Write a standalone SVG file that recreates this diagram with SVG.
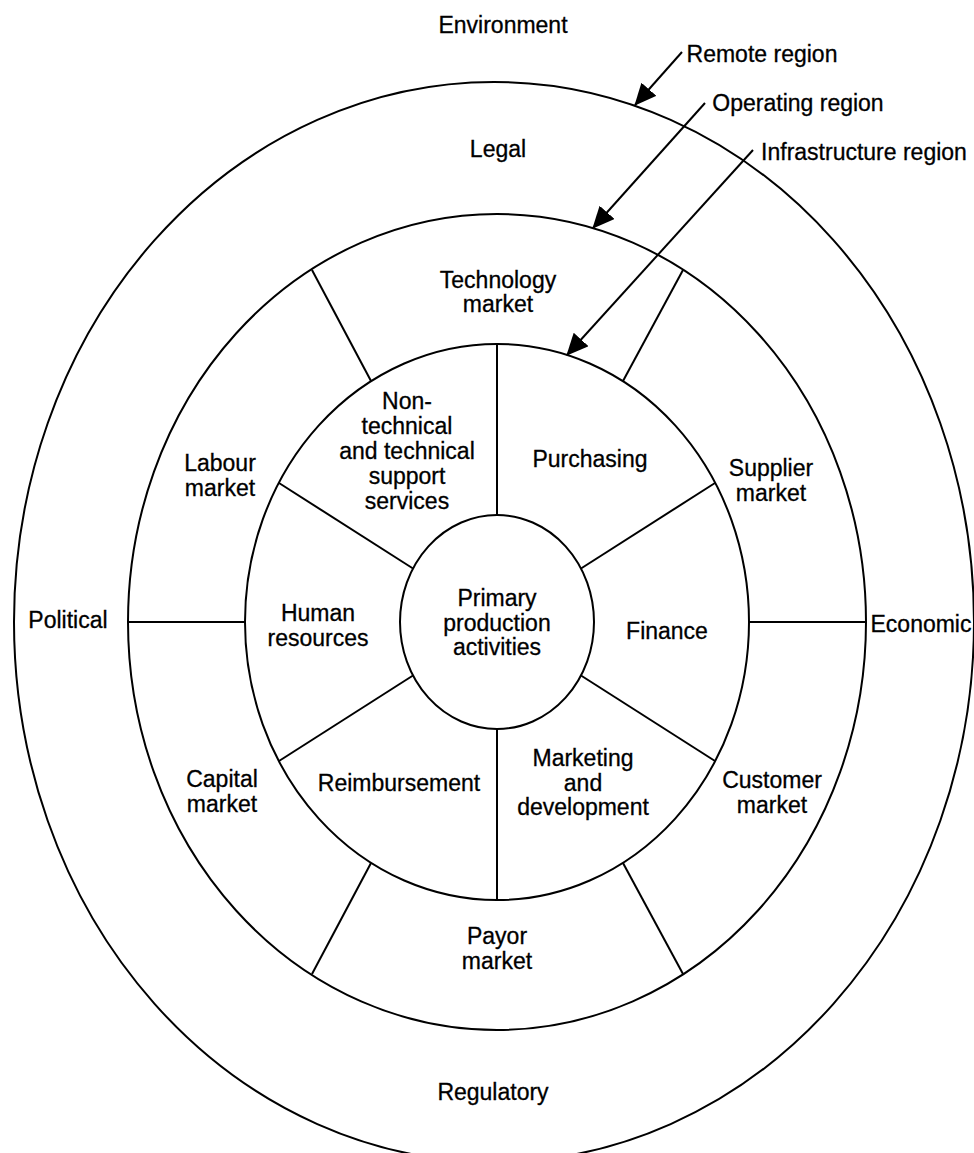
<svg xmlns="http://www.w3.org/2000/svg" width="974" height="1153" viewBox="0 0 974 1153">
  <style>
    .ring { fill: none; stroke: #000; stroke-width: 2; }
    .spoke { stroke: #000; stroke-width: 2; fill: none; }
    .lead { stroke: #000; stroke-width: 2; fill: none; marker-end: url(#head); }
    text {
      font-family: "Liberation Sans", Arial, Helvetica, sans-serif;
      font-size: 23px; fill: #000; stroke: #000; stroke-width: 0.3;
      text-anchor: middle;
    }
  </style>
  <defs>
    <marker id="head" markerUnits="userSpaceOnUse" markerWidth="24" markerHeight="22" refX="21" refY="10" orient="auto">
      <path d="M0,0 L22,10 L0,20 z" fill="#000"/>
    </marker>
  </defs>
  <rect width="974" height="1153" fill="#fff"/>

  <!-- concentric regions -->
  <g id="rings">
    <ellipse id="remote-ring" class="ring" cx="494" cy="622" rx="480" ry="540"/>
    <ellipse id="operating-ring" class="ring" cx="497" cy="622" rx="369" ry="408"/>
    <ellipse id="infrastructure-ring" class="ring" cx="497" cy="622" rx="252" ry="278"/>
    <ellipse id="core-ring" class="ring" cx="497" cy="622" rx="97" ry="107"/>
  </g>

  <!-- sector dividers -->
  <g id="dividers">
    <line class="spoke" x1="497" y1="515" x2="497" y2="344"/>
    <line class="spoke" x1="581" y1="568.5" x2="715" y2="483"/>
    <line class="spoke" x1="581" y1="675.5" x2="715" y2="761"/>
    <line class="spoke" x1="497" y1="729" x2="497" y2="900"/>
    <line class="spoke" x1="413" y1="675.5" x2="279" y2="761"/>
    <line class="spoke" x1="413" y1="568.5" x2="279" y2="483"/>

    <line class="spoke" x1="749" y1="622" x2="866" y2="622"/>
    <line class="spoke" x1="623" y1="381" x2="683" y2="270"/>
    <line class="spoke" x1="371" y1="381" x2="312" y2="270"/>
    <line class="spoke" x1="245" y1="622" x2="128" y2="622"/>
    <line class="spoke" x1="371" y1="863" x2="312" y2="974"/>
    <line class="spoke" x1="623" y1="863" x2="683" y2="974"/>
  </g>

  <!-- leaders to the region boundaries -->
  <g id="connectors">
    <line class="lead" x1="682" y1="52" x2="635" y2="105"/>
    <line class="lead" x1="705" y1="103" x2="593" y2="228"/>
    <line class="lead" x1="753" y1="150" x2="567" y2="355"/>
  </g>

  <g id="environment"><text x="503" y="33">Environment</text></g>
  <g id="remote-region"><text x="762" y="62">Remote region</text></g>
  <g id="operating-region"><text x="798" y="111">Operating region</text></g>
  <g id="infrastructure-region"><text x="864" y="160">Infrastructure region</text></g>

  <g id="legal"><text x="498" y="157">Legal</text></g>
  <g id="political"><text x="68" y="628">Political</text></g>
  <g id="economic"><text x="921" y="632">Economic</text></g>
  <g id="regulatory"><text x="493" y="1100">Regulatory</text></g>

  <g id="technology-market"><text x="498" y="288">Technology</text><text x="498" y="312">market</text></g>
  <g id="labour-market"><text x="220" y="471">Labour</text><text x="220" y="496">market</text></g>
  <g id="supplier-market"><text x="771" y="476">Supplier</text><text x="771" y="501">market</text></g>
  <g id="capital-market"><text x="222" y="787">Capital</text><text x="222" y="812">market</text></g>
  <g id="customer-market"><text x="772" y="788">Customer</text><text x="772" y="813">market</text></g>
  <g id="payor-market"><text x="497" y="944">Payor</text><text x="497" y="969">market</text></g>

  <g id="support-services">
    <text x="407" y="409">Non-</text>
    <text x="407" y="434">technical</text>
    <text x="407" y="459">and technical</text>
    <text x="407" y="484">support</text>
    <text x="407" y="509">services</text>
  </g>
  <g id="purchasing"><text x="590" y="467">Purchasing</text></g>
  <g id="human-resources"><text x="318" y="621">Human</text><text x="318" y="646">resources</text></g>
  <g id="finance"><text x="667" y="639">Finance</text></g>
  <g id="reimbursement"><text x="399" y="791">Reimbursement</text></g>
  <g id="marketing-development">
    <text x="583" y="766">Marketing</text>
    <text x="583" y="791">and</text>
    <text x="583" y="815">development</text>
  </g>
  <g id="primary-production">
    <text x="497" y="606">Primary</text>
    <text x="497" y="631">production</text>
    <text x="497" y="655">activities</text>
  </g>
</svg>
